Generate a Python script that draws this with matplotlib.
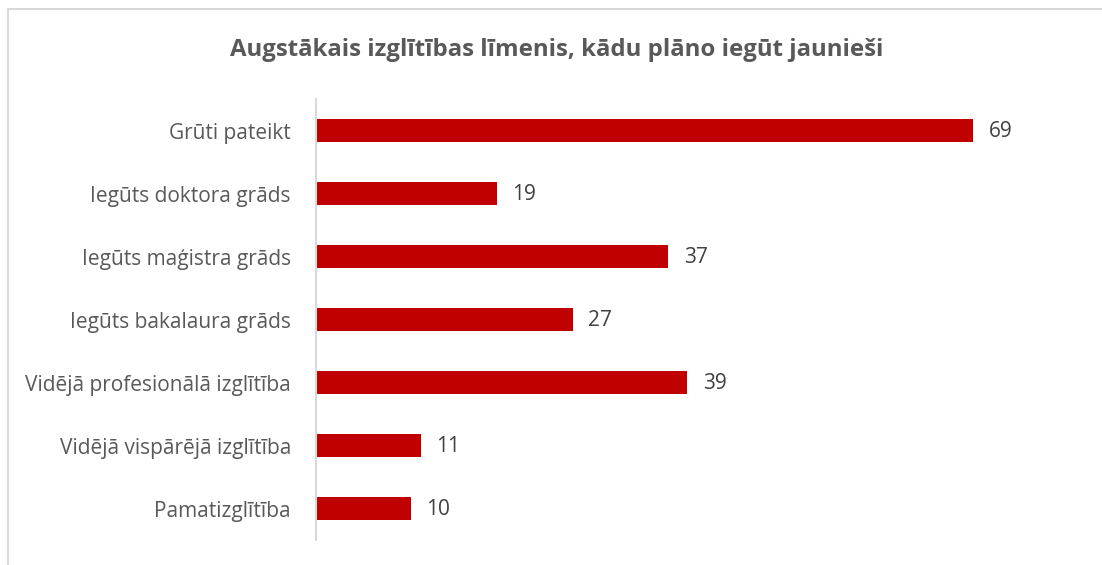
import matplotlib.pyplot as plt
from matplotlib.patches import Rectangle

categories = ['Grūti pateikt', 'Iegūts doktora grāds', 'Iegūts maģistra grāds',
              'Iegūts bakalaura grāds', 'Vidējā profesionālā izglītība',
              'Vidējā vispārējā izglītība', 'Pamatizglītība']
values = [69, 19, 37, 27, 39, 11, 10]
title = 'Augstākais izglītības līmenis, kādu plāno iegūt jaunieši'

plt.rcParams['font.family'] = ['Open Sans', 'DejaVu Sans']

fig = plt.figure(figsize=(11.02, 5.65), dpi=100)
# light chart-area border (right and bottom edges are cut off)
fig.patches.append(Rectangle((8 / 1102, -0.1), 1.2, (565 - 9) / 565 + 0.1,
                             transform=fig.transFigure, fill=False,
                             edgecolor='#D9D9D9', linewidth=1.5))

ax = fig.add_axes([316 / 1102, 25 / 565, 762 / 1102, 441 / 565])
y = list(range(len(categories)))
ax.barh(y, values, height=0.35, color='#C00000')
ax.set_ylim(len(categories) - 0.5, -0.5)
ax.set_xlim(0, 80)
ax.set_yticks(y)
ax.set_yticklabels(categories, fontsize=15, color='#595959')
ax.tick_params(axis='y', length=0, pad=18)
ax.set_xticks([])
for s in ['top', 'right', 'bottom']:
    ax.spines[s].set_visible(False)
ax.spines['left'].set_color('#D9D9D9')
ax.spines['left'].set_linewidth(1.5)

for i, v in enumerate(values):
    ax.annotate(str(v), (v, i), xytext=(11, -1), textcoords='offset points',
                va='center', ha='left', fontsize=15, color='#404040')

fig.text(557 / 1102, 1 - 50 / 565, title, ha='center', va='center',
         fontsize=17.3, fontweight='bold', color='#595959')

fig.savefig('out.png', dpi=100)
